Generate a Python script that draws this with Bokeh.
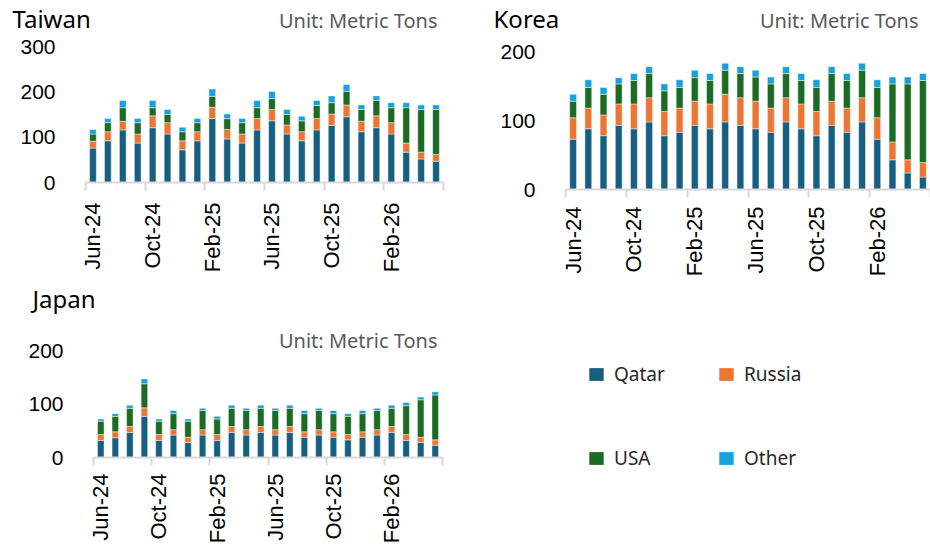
import math
from bokeh.plotting import figure
from bokeh.layouts import column, row
from bokeh.models import (ColumnDataSource, Range1d, FixedTicker, Label, Legend, LegendItem)
from bokeh.embed import file_html
from bokeh.resources import INLINE

months = ["Jun-24", "Jul-24", "Aug-24", "Sep-24", "Oct-24", "Nov-24", "Dec-24", "Jan-25",
          "Feb-25", "Mar-25", "Apr-25", "May-25", "Jun-25", "Jul-25", "Aug-25", "Sep-25",
          "Oct-25", "Nov-25", "Dec-25", "Jan-26", "Feb-26", "Mar-26", "Apr-26", "May-26"]
series = ["Qatar", "Russia", "USA", "Other"]
colors = ["#165f80", "#ed7532", "#1c6b25", "#17a1d8"]

taiwan_qatar = [76, 92, 116, 87, 121, 107, 72, 92, 141, 96, 87, 116, 136, 107, 92, 116, 126, 145, 112, 121, 107, 67, 52, 47]
taiwan_russia = [15, 20, 19, 20, 26, 25, 20, 20, 25, 21, 20, 25, 25, 20, 20, 25, 25, 26, 23, 26, 25, 20, 15, 15]
taiwan_usa = [16, 20, 30, 25, 18, 18, 20, 20, 24, 24, 25, 24, 24, 23, 24, 29, 25, 30, 26, 34, 33, 78, 94, 99]
taiwan_other = [10, 9, 16, 9, 16, 11, 10, 9, 16, 10, 9, 16, 16, 11, 10, 11, 15, 15, 10, 10, 11, 11, 10, 10]

korea_qatar = [73, 88, 78, 93, 88, 98, 78, 83, 93, 88, 98, 93, 88, 83, 98, 88, 78, 93, 83, 98, 73, 43, 24, 18]
korea_russia = [31, 30, 30, 31, 36, 35, 35, 35, 35, 36, 40, 40, 40, 35, 35, 36, 35, 35, 35, 35, 31, 26, 19, 21]
korea_usa = [24, 30, 30, 29, 34, 35, 30, 30, 34, 34, 35, 35, 35, 35, 35, 34, 35, 40, 40, 40, 44, 84, 110, 119]
korea_other = [10, 11, 10, 9, 10, 10, 10, 11, 11, 10, 10, 10, 10, 10, 10, 10, 11, 10, 10, 10, 11, 10, 10, 10]

japan_qatar = [32, 37, 47, 77, 32, 42, 28, 42, 32, 47, 42, 47, 42, 47, 38, 42, 38, 33, 38, 42, 47, 32, 28, 23]
japan_russia = [11, 11, 11, 16, 11, 10, 10, 10, 11, 11, 10, 11, 10, 11, 10, 10, 10, 10, 10, 10, 11, 11, 10, 10]
japan_usa = [25, 29, 34, 45, 25, 30, 30, 36, 29, 34, 36, 34, 36, 34, 34, 36, 34, 34, 34, 36, 34, 54, 70, 84]
japan_other = [4, 5, 6, 9, 4, 6, 4, 4, 5, 6, 4, 6, 4, 6, 6, 4, 6, 5, 6, 4, 6, 6, 5, 6]

taiwan_yticks = [0, 100, 200, 300]
korea_yticks = [0, 100, 200]
japan_yticks = [0, 100, 200]

NUM_FONT = "Liberation Sans"
TXT_FONT = "Noto Sans"
AXIS_GRAY = "#d9d9d9"
UNIT_TEXT = "Unit: Metric Tons"


def wrap(f):
    return column(f)


def blank(width, height):
    f = figure(width=width, height=height, x_range=Range1d(0, 1), y_range=Range1d(0, 1),
               x_axis_type=None, y_axis_type=None, output_backend="svg",
               toolbar_location=None, min_border=0)
    f.xgrid.visible = False
    f.ygrid.visible = False
    f.outline_line_color = None
    return f


def unit_label(x, y, y_units="screen"):
    return Label(x=x, y=y, x_units="screen", y_units=y_units, text=UNIT_TEXT,
                 text_font=TXT_FONT, text_font_size="20px", text_color="#595959",
                 text_baseline="middle", text_align="right")


def header(width, height, name, name_pos, unit_pos=None):
    h = blank(width, height)
    h.add_layout(Label(x=name_pos[0], y=name_pos[1], x_units="screen", y_units="screen",
                       text=name, text_font=TXT_FONT, text_font_size="24px",
                       text_color="black", text_baseline="middle", text_align="left"))
    if unit_pos is not None:
        h.add_layout(unit_label(*unit_pos))
    return h


def chart(q, r, u, o, width, height, ymax, yticks, bl, br, bt, bb, standoff, unit_pos=None):
    n = len(months)
    src = ColumnDataSource(dict(x=list(range(n)), Qatar=q, Russia=r, USA=u, Other=o))
    p = figure(width=width, height=height, x_range=Range1d(-0.5, n - 0.5),
               y_range=Range1d(0, ymax), output_backend="svg", toolbar_location=None,
               min_border_left=bl, min_border_right=br, min_border_top=bt,
               min_border_bottom=bb)
    p.vbar_stack(series, x="x", width=0.45, source=src, fill_color=colors,
                 line_color="white", line_alpha=0.45, line_width=1)
    p.xgrid.visible = False
    p.ygrid.visible = False
    p.outline_line_color = None

    xa = p.xaxis[0]
    xa.axis_label = None
    label_idx = list(range(0, n, 4))
    xa.ticker = FixedTicker(ticks=label_idx,
                            minor_ticks=[i - 0.5 for i in range(0, n + 1, 4)])
    xa.major_label_overrides = {i: months[i] for i in label_idx}
    xa.major_label_orientation = math.pi / 2
    xa.major_tick_line_color = None
    xa.major_tick_out = 0
    xa.major_tick_in = 0
    xa.minor_tick_line_color = AXIS_GRAY
    xa.minor_tick_line_width = 2
    xa.minor_tick_out = 0
    xa.minor_tick_in = -8
    xa.axis_line_color = AXIS_GRAY
    xa.axis_line_width = 2
    xa.major_label_text_font = NUM_FONT
    xa.major_label_text_font_size = "22px"
    xa.major_label_text_color = "black"
    xa.major_label_standoff = standoff

    ya = p.yaxis[0]
    ya.axis_label = None
    ya.ticker = FixedTicker(ticks=yticks)
    ya.axis_line_color = None
    ya.major_tick_line_color = None
    ya.minor_tick_line_color = None
    ya.major_tick_out = 0
    ya.major_tick_in = 0
    ya.minor_tick_out = 0
    ya.major_label_text_font = NUM_FONT
    ya.major_label_text_font_size = "21px"
    ya.major_label_text_color = "black"
    ya.major_label_standoff = 30

    if unit_pos is not None:
        p.add_layout(unit_label(unit_pos[0], unit_pos[1], "data"))
    return p


# top row: 280 px tall (header 34 + chart 246)
tw_head = header(470, 34, "Taiwan", (12, 16.5), (437, 14))
tw = chart(taiwan_qatar, taiwan_russia, taiwan_usa, taiwan_other,
           470, 246, 300, taiwan_yticks, 85, 27, 12, 98, 20)

ko_head = header(460, 34, "Korea", (23, 16.5), (448, 14))
ko = chart(korea_qatar, korea_russia, korea_usa, korea_other,
           460, 246, 200, korea_yticks, 95, 0, 17, 91, 17)

# bottom row: 266 px tall (header 35 + chart 231)
jp_head = header(470, 35, "Japan", (32, 17))
jp = chart(japan_qatar, japan_russia, japan_usa, japan_other,
           470, 231, 247, japan_yticks, 93, 28, 10, 89, 16, (344, 219))

lg = blank(460, 266)
rends = {}
for s, c in zip(series, colors):
    rends[s] = lg.vbar(x=[-10], top=[0], bottom=[0], width=0.1, fill_color=c,
                       line_color=None)

legend_rows = [["Qatar", "Russia"], ["USA", "Other"]]
legend_locs = [(117, 159), (117, 75)]
for names, loc in zip(legend_rows, legend_locs):
    leg = Legend(items=[LegendItem(label=s, renderers=[rends[s]]) for s in names],
                 location=loc, orientation="horizontal",
                 border_line_color=None, background_fill_alpha=0, padding=0, margin=0,
                 spacing=3, glyph_width=18, glyph_height=16, label_height=16,
                 label_width=100, label_standoff=9, label_text_font=TXT_FONT,
                 label_text_font_size="19px", label_text_color="#262626")
    lg.add_layout(leg, "center")

layout = column(
    row(column(wrap(tw_head), wrap(tw)), column(wrap(ko_head), wrap(ko))),
    row(column(wrap(jp_head), wrap(jp)), wrap(lg)),
)
open("out.html", "w").write(file_html(layout, INLINE))
